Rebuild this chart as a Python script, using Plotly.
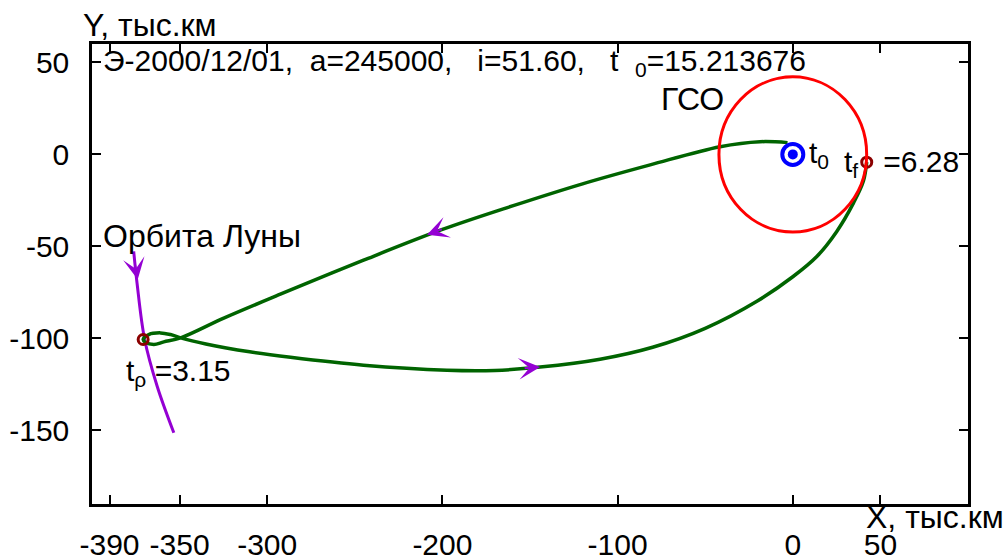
import plotly.graph_objects as go

# Spacecraft trajectory in the XY plane, thousand km
traj_x = [-3.0, -18.7, -41.5, -81.4, -120.0, -160.0, -200.0, -245.0, -292.5, -324.8,
          -349.4, -359.0, -364.7, -369.5, -370.8, -367.6, -360.9, -355.2, -349.4,
          -335.0, -310.0, -286.7, -245.0, -197.4, -170.0, -144.2, -110.0, -80.0,
          -50.0, -20.0, 0.0, 13.7, 25.0, 34.6, 40.3, 42.2]
traj_y = [6.4, 6.9, 4.2, -5.7, -16.0, -28.0, -40.8, -57.5, -76.0, -89.0,
          -99.7, -101.9, -103.3, -102.1, -100.6, -97.9, -97.0, -97.9, -99.7,
          -103.0, -107.3, -110.3, -114.6, -117.3, -117.4, -115.6, -111.3, -104.8,
          -94.5, -79.5, -66.5, -55.5, -42.0, -26.5, -14.5, -4.2]

# Arc of the Moon's orbit
moon_x = [-376.2, -374.3, -370.0, -362.8, -353.3]
moon_y = [-52.7, -69.9, -100.3, -126.0, -151.3]

# Geostationary orbit radius, thousand km
GSO_R = 42.164

# Earth (start point t0)
earth_x = [0.0]
earth_y = [0.0]

# Event points: periselenium t_p and final point t_f
event_x = [-370.8, 42.2]
event_y = [-100.6, -4.2]

# Direction arrows: (tail x, tail y, head x, head y)
arrows = [
    (-375.6, -59.2, -373.9, -68.0),
    (-199.5, -40.4, -208.8, -43.7),
    (-153.9, -116.3, -144.2, -115.5),
]

x_ticks = [-390, -350, -300, -200, -100, 0, 50]
y_ticks = [50, 0, -50, -100, -150]

FONT = "Liberation Sans, Arial, sans-serif"
FS = 30
FS_CYR = 32
PURPLE = "#9400d3"
SP = "\u00a0"

fig = go.Figure()

fig.add_shape(type="circle", xref="x", yref="y",
              x0=-GSO_R, y0=-GSO_R, x1=GSO_R, y1=GSO_R,
              line=dict(color="#ff0000", width=3))

fig.add_trace(go.Scatter(x=moon_x, y=moon_y, mode="lines",
                         line=dict(color=PURPLE, width=3, shape="spline"),
                         hoverinfo="skip"))
fig.add_trace(go.Scatter(x=traj_x, y=traj_y, mode="lines",
                         line=dict(color="#006400", width=3.5, shape="spline",
                                   smoothing=1.0),
                         hoverinfo="skip"))
fig.add_trace(go.Scatter(x=earth_x, y=earth_y, mode="markers",
                         marker=dict(symbol="circle-open", size=21, color="#0000ff",
                                     line=dict(color="#0000ff", width=4)),
                         hoverinfo="skip"))
fig.add_trace(go.Scatter(x=earth_x, y=earth_y, mode="markers",
                         marker=dict(symbol="circle", size=10, color="#0000ff"),
                         hoverinfo="skip"))
fig.add_trace(go.Scatter(x=event_x, y=event_y, mode="markers",
                         marker=dict(symbol="circle-open", size=10, color="#8b0000",
                                     line=dict(color="#8b0000", width=3)),
                         hoverinfo="skip"))

for tx, ty, hx, hy in arrows:
    fig.add_annotation(x=hx, y=hy, ax=tx, ay=ty, xref="x", yref="y",
                       axref="x", ayref="y", text="", showarrow=True,
                       arrowhead=3, arrowsize=1.8, arrowwidth=2,
                       arrowcolor=PURPLE)

header = ("Э-2000/12/01," + SP * 2 + "a=245000," + SP * 3 + "i=51.60," + SP * 3
          + "t" + SP * 2 + "<sub>0</sub>=15.213676")

labels = [
    (-395.1, 50.0, "left", FS, header),
    (-57.4, 30.0, "center", FS_CYR, "ГСО"),
    (-395.1, -44.6, "left", FS_CYR, "Орбита Луны"),
    (8.2, 0.0, "left", FS, "t<sub>0</sub>"),
    (27.9, -5.2, "left", FS, "t<sub>f</sub>" + SP * 3 + "=6.28"),
    (-381.5, -118.7, "left", FS, "t<sub>ρ</sub>" + SP + "=3.15"),
]
for lx, ly, anc, size, txt in labels:
    fig.add_annotation(x=lx, y=ly, xref="x", yref="y", text=txt,
                       showarrow=False, xanchor=anc, yanchor="middle",
                       font=dict(family=FONT, size=size, color="black"))

# Axis titles
fig.add_annotation(x=-0.012, y=1.042, xref="paper", yref="paper",
                   text="Y, тыс.км", showarrow=False, xanchor="left",
                   yanchor="middle", font=dict(family=FONT, size=FS_CYR, color="black"))
fig.add_annotation(x=0.881, y=-0.028, xref="paper", yref="paper",
                   text="X, тыс.км", showarrow=False, xanchor="left",
                   yanchor="middle", font=dict(family=FONT, size=FS_CYR, color="black"))

axis_common = dict(showgrid=False, zeroline=False, showline=True,
                   linecolor="black", linewidth=2.5, mirror="ticks",
                   ticks="inside", ticklen=9, tickwidth=2, tickcolor="black",
                   automargin=False,
                   tickfont=dict(family=FONT, size=FS, color="black"))

fig.update_xaxes(range=[-400, 100], tickmode="array", tickvals=x_ticks,
                 ticktext=[str(v) for v in x_ticks], ticklabelstandoff=12,
                 **axis_common)
fig.update_yaxes(range=[-190, 60], tickmode="array", tickvals=y_ticks,
                 ticktext=[str(v) for v in y_ticks], ticklabelstandoff=14,
                 **axis_common)

fig.update_layout(width=1008, height=559, showlegend=False,
                  margin=dict(l=92, r=40, t=44, b=55),
                  paper_bgcolor="white", plot_bgcolor="white",
                  font=dict(family=FONT, size=FS, color="black"))

fig.write_html("out.html")
